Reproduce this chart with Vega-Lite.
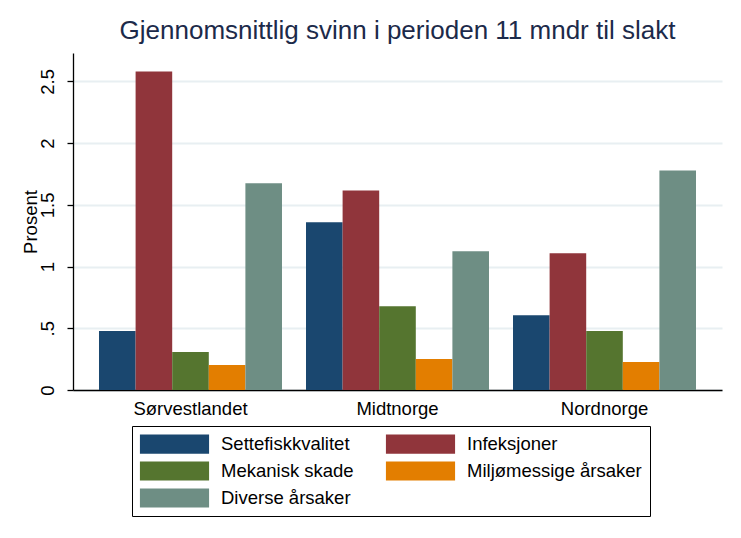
{
  "$schema": "https://vega.github.io/schema/vega-lite/v6.json",
  "width": 649,
  "height": 337,
  "autosize": {"type": "none"},
  "padding": {"left": 73, "top": 53, "right": 19, "bottom": 148},
  "background": "white",
  "config": {
    "font": "Liberation Sans",
    "view": {"stroke": null},
    "axis": {"labelColor": "black", "titleColor": "black", "labelFont": "Liberation Sans", "titleFont": "Liberation Sans"}
  },
  "title": {
    "text": "Gjennomsnittlig svinn i perioden 11 mndr til slakt",
    "fontSize": 26,
    "fontWeight": "normal",
    "color": "#1c2a4a",
    "anchor": "middle",
    "baseline": "alphabetic",
    "offset": 10,
    "dy": 22
  },
  "data": {
    "values": [
      {"region": "Sørvestlandet", "arsak": "Settefiskkvalitet", "prosent": 0.477},
      {"region": "Sørvestlandet", "arsak": "Infeksjoner", "prosent": 2.58},
      {"region": "Sørvestlandet", "arsak": "Mekanisk skade", "prosent": 0.307},
      {"region": "Sørvestlandet", "arsak": "Miljømessige årsaker", "prosent": 0.202},
      {"region": "Sørvestlandet", "arsak": "Diverse årsaker", "prosent": 1.674},
      {"region": "Midtnorge", "arsak": "Settefiskkvalitet", "prosent": 1.358},
      {"region": "Midtnorge", "arsak": "Infeksjoner", "prosent": 1.617},
      {"region": "Midtnorge", "arsak": "Mekanisk skade", "prosent": 0.679},
      {"region": "Midtnorge", "arsak": "Miljømessige årsaker", "prosent": 0.251},
      {"region": "Midtnorge", "arsak": "Diverse årsaker", "prosent": 1.124},
      {"region": "Nordnorge", "arsak": "Settefiskkvalitet", "prosent": 0.606},
      {"region": "Nordnorge", "arsak": "Infeksjoner", "prosent": 1.108},
      {"region": "Nordnorge", "arsak": "Mekanisk skade", "prosent": 0.477},
      {"region": "Nordnorge", "arsak": "Miljømessige årsaker", "prosent": 0.226},
      {"region": "Nordnorge", "arsak": "Diverse årsaker", "prosent": 1.779}
    ]
  },
  "mark": {"type": "bar"},
  "encoding": {
    "x": {
      "field": "region",
      "type": "nominal",
      "sort": ["Sørvestlandet", "Midtnorge", "Nordnorge"],
      "scale": {"paddingInner": 0.116, "paddingOuter": 0.1256},
      "axis": {
        "title": null,
        "labelAngle": 0,
        "labelFontSize": 18.5,
        "ticks": false,
        "labelPadding": 9,
        "domainColor": "black",
        "domainWidth": 1.3,
        "grid": false
      }
    },
    "xOffset": {
      "field": "arsak",
      "type": "nominal",
      "sort": ["Settefiskkvalitet", "Infeksjoner", "Mekanisk skade", "Miljømessige årsaker", "Diverse årsaker"],
      "scale": {"paddingInner": 0, "paddingOuter": 0}
    },
    "y": {
      "field": "prosent",
      "type": "quantitative",
      "scale": {"domain": [0, 2.73], "nice": false},
      "axis": {
        "title": "Prosent",
        "titleFontSize": 18.5,
        "titleFontWeight": "normal",
        "titleAngle": -90,
        "titleBaseline": "alphabetic",
        "titleX": -37,
        "values": [0, 0.5, 1, 1.5, 2, 2.5],
        "labelExpr": "datum.value == 0.5 ? '.5' : format(datum.value, '~g')",
        "labelFontSize": 18.5,
        "labelAngle": -90,
        "labelAlign": "center",
        "labelBaseline": "alphabetic",
        "labelPadding": 13.5,
        "tickSize": 6,
        "tickColor": "black",
        "tickWidth": 1.3,
        "domainColor": "black",
        "domainWidth": 1.3,
        "grid": true,
        "gridColor": "#e8eff2",
        "gridWidth": 2.2
      }
    },
    "color": {
      "field": "arsak",
      "type": "nominal",
      "sort": ["Settefiskkvalitet", "Infeksjoner", "Mekanisk skade", "Miljømessige årsaker", "Diverse årsaker"],
      "scale": {
        "domain": ["Settefiskkvalitet", "Infeksjoner", "Mekanisk skade", "Miljømessige årsaker", "Diverse årsaker"],
        "range": ["#1a476f", "#90353b", "#55752f", "#e37e00", "#6e8e84"]
      },
      "legend": {
        "title": null,
        "orient": "none",
        "legendX": 59,
        "legendY": 373,
        "columns": 2,
        "direction": "horizontal",
        "symbolType": "M-3.6,-1H3.6V1H-3.6Z",
        "symbolSize": 369,
        "symbolOffset": 24.5,
        "symbolStrokeWidth": 0,
        "labelFontSize": 18.5,
        "labelColor": "black",
        "labelFont": "Liberation Sans",
        "labelOffset": 36.5,
        "labelLimit": 400,
        "columnPadding": 31,
        "rowPadding": 7,
        "padding": 8,
        "strokeColor": "black",
        "fillColor": "white"
      }
    }
  }
}
